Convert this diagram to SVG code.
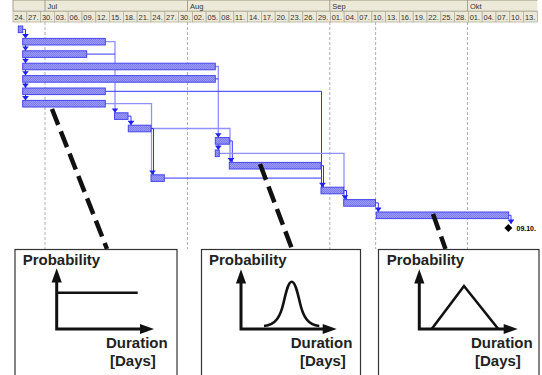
<svg xmlns="http://www.w3.org/2000/svg" xmlns:xlink="http://www.w3.org/1999/xlink" width="542" height="375" viewBox="0 0 542 375">
<style>
.hdr{fill:#ece9d8}
.cell{fill:#ece9d8;stroke:#b5b19d;stroke-width:0.8}
.ht{font-family:"Liberation Sans",Arial,sans-serif;font-size:7.5px;fill:#333}
.grid{stroke:#b0b0b0;stroke-width:1;stroke-dasharray:3 2;fill:none}
.bar{fill:url(#hatch);stroke:#4545ee;stroke-width:1}
.cd{fill:none;stroke:#3434ff;stroke-width:1}
.cl{fill:none;stroke:#9090ff;stroke-width:1.3}
.ah{fill:#2020f0}
.ms{fill:#000}
.msl{font-family:"Liberation Sans",Arial,sans-serif;font-size:7px;font-weight:bold;fill:#000}
.lead{stroke:#111;stroke-width:4.5;stroke-dasharray:17 7;fill:none}
.box{fill:#fff;stroke:#333;stroke-width:1.2}
.lbl{font-family:"Liberation Sans",Arial,sans-serif;font-size:15px;font-weight:bold;fill:#222}
.axis{fill:none;stroke:#111;stroke-width:3}
.head{fill:#111}
.curve{fill:none;stroke:#111;stroke-width:2.6;stroke-linejoin:miter}
</style>
<defs>
<pattern id="hatch" width="2" height="2" patternUnits="userSpaceOnUse">
<rect width="2" height="2" fill="#9c9cf8"/>
<rect width="1" height="1" fill="#7c7cee"/>
<rect x="1" y="1" width="1" height="1" fill="#7c7cee"/>
</pattern>
<path id="ah" d="M-3,-4.4 H3 V-3.5 H-3 Z M-2.6,-3.5 H2.6 L0,0 Z"/>
</defs>

<!-- header -->
<g id="timescale">
<rect class="hdr" x="13" y="0" width="524.4" height="22"/>
<line x1="13" y1="0.5" x2="537.4" y2="0.5" stroke="#b5b19d" stroke-width="0.8"/>
<line x1="13" y1="11" x2="537.4" y2="11" stroke="#b5b19d" stroke-width="0.8"/>
<g stroke="#9c9886" stroke-width="0.9">
<line x1="13" y1="0" x2="13" y2="11"/>
<line x1="45" y1="0" x2="45" y2="11"/>
<line x1="187.5" y1="0" x2="187.5" y2="11"/>
<line x1="329.8" y1="0" x2="329.8" y2="11"/>
<line x1="467.5" y1="0" x2="467.5" y2="11"/>
</g>
<text class="ht" x="47.5" y="8.5">Jul</text>
<text class="ht" x="190" y="8.5">Aug</text>
<text class="ht" x="332.3" y="8.5">Sep</text>
<text class="ht" x="470" y="8.5">Okt</text>
<g>
<rect class="cell" x="13" y="11.5" width="13.8" height="10.5"/>
<rect class="cell" x="26.8" y="11.5" width="13.8" height="10.5"/>
<rect class="cell" x="40.6" y="11.5" width="13.8" height="10.5"/>
<rect class="cell" x="54.4" y="11.5" width="13.8" height="10.5"/>
<rect class="cell" x="68.2" y="11.5" width="13.8" height="10.5"/>
<rect class="cell" x="82" y="11.5" width="13.8" height="10.5"/>
<rect class="cell" x="95.8" y="11.5" width="13.8" height="10.5"/>
<rect class="cell" x="109.6" y="11.5" width="13.8" height="10.5"/>
<rect class="cell" x="123.4" y="11.5" width="13.8" height="10.5"/>
<rect class="cell" x="137.2" y="11.5" width="13.8" height="10.5"/>
<rect class="cell" x="151" y="11.5" width="13.8" height="10.5"/>
<rect class="cell" x="164.8" y="11.5" width="13.8" height="10.5"/>
<rect class="cell" x="178.6" y="11.5" width="13.8" height="10.5"/>
<rect class="cell" x="192.4" y="11.5" width="13.8" height="10.5"/>
<rect class="cell" x="206.2" y="11.5" width="13.8" height="10.5"/>
<rect class="cell" x="220" y="11.5" width="13.8" height="10.5"/>
<rect class="cell" x="233.8" y="11.5" width="13.8" height="10.5"/>
<rect class="cell" x="247.6" y="11.5" width="13.8" height="10.5"/>
<rect class="cell" x="261.4" y="11.5" width="13.8" height="10.5"/>
<rect class="cell" x="275.2" y="11.5" width="13.8" height="10.5"/>
<rect class="cell" x="289" y="11.5" width="13.8" height="10.5"/>
<rect class="cell" x="302.8" y="11.5" width="13.8" height="10.5"/>
<rect class="cell" x="316.6" y="11.5" width="13.8" height="10.5"/>
<rect class="cell" x="330.4" y="11.5" width="13.8" height="10.5"/>
<rect class="cell" x="344.2" y="11.5" width="13.8" height="10.5"/>
<rect class="cell" x="358" y="11.5" width="13.8" height="10.5"/>
<rect class="cell" x="371.8" y="11.5" width="13.8" height="10.5"/>
<rect class="cell" x="385.6" y="11.5" width="13.8" height="10.5"/>
<rect class="cell" x="399.4" y="11.5" width="13.8" height="10.5"/>
<rect class="cell" x="413.2" y="11.5" width="13.8" height="10.5"/>
<rect class="cell" x="427" y="11.5" width="13.8" height="10.5"/>
<rect class="cell" x="440.8" y="11.5" width="13.8" height="10.5"/>
<rect class="cell" x="454.6" y="11.5" width="13.8" height="10.5"/>
<rect class="cell" x="468.4" y="11.5" width="13.8" height="10.5"/>
<rect class="cell" x="482.2" y="11.5" width="13.8" height="10.5"/>
<rect class="cell" x="496" y="11.5" width="13.8" height="10.5"/>
<rect class="cell" x="509.8" y="11.5" width="13.8" height="10.5"/>
<rect class="cell" x="523.6" y="11.5" width="13.8" height="10.5"/>
</g>
<g class="ht">
<text x="14.3" y="19.8">24.</text>
<text x="28.1" y="19.8">27.</text>
<text x="41.9" y="19.8">30.</text>
<text x="55.7" y="19.8">03.</text>
<text x="69.5" y="19.8">06.</text>
<text x="83.3" y="19.8">09.</text>
<text x="97.1" y="19.8">12.</text>
<text x="110.9" y="19.8">15.</text>
<text x="124.7" y="19.8">18.</text>
<text x="138.5" y="19.8">21.</text>
<text x="152.3" y="19.8">24.</text>
<text x="166.1" y="19.8">27.</text>
<text x="179.9" y="19.8">30.</text>
<text x="193.7" y="19.8">02.</text>
<text x="207.5" y="19.8">05.</text>
<text x="221.3" y="19.8">08.</text>
<text x="235.1" y="19.8">11.</text>
<text x="248.9" y="19.8">14.</text>
<text x="262.7" y="19.8">17.</text>
<text x="276.5" y="19.8">20.</text>
<text x="290.3" y="19.8">23.</text>
<text x="304.1" y="19.8">26.</text>
<text x="317.9" y="19.8">29.</text>
<text x="331.7" y="19.8">01.</text>
<text x="345.5" y="19.8">04.</text>
<text x="359.3" y="19.8">07.</text>
<text x="373.1" y="19.8">10.</text>
<text x="386.9" y="19.8">13.</text>
<text x="400.7" y="19.8">16.</text>
<text x="414.5" y="19.8">19.</text>
<text x="428.3" y="19.8">22.</text>
<text x="442.1" y="19.8">25.</text>
<text x="455.9" y="19.8">28.</text>
<text x="469.7" y="19.8">01.</text>
<text x="483.5" y="19.8">04.</text>
<text x="497.3" y="19.8">07.</text>
<text x="511.1" y="19.8">10.</text>
<text x="524.9" y="19.8">13.</text>
</g>
</g>

<!-- gridlines -->
<g id="gridlines" class="grid">
<line x1="45" y1="22" x2="45" y2="249"/>
<line x1="187.5" y1="22" x2="187.5" y2="249"/>
<line x1="329.8" y1="22" x2="329.8" y2="249"/>
<line x1="375.6" y1="22" x2="375.6" y2="249"/>
<line x1="467.5" y1="22" x2="467.5" y2="249"/>
</g>

<!-- connectors -->
<g id="connectors">
<path class="cd" d="M22.7,29.3 H25.5 V100.4"/>
<path class="cl" d="M105.3,41.7 H115 V112.8"/>
<path class="cd" d="M86.7,54.1 H115"/>
<path class="cl" d="M215.3,66.5 H218.3 V150"/>
<path class="cd" d="M215.3,78.9 H218.3"/>
<path class="cd" d="M105.3,91.3 H321.5 V187.2"/>
<path class="cl" d="M105.3,103.7 H151.5 V174.8"/>
<path class="cd" d="M128,116.1 H131 V125.2"/>
<path class="cl" d="M151,128.5 H230 V162.4"/>
<path class="cd" d="M151,128.5 H153.5 V174.8"/>
<path class="cd" d="M229.3,140.9 H232.3 V162.4"/>
<path class="cl" d="M219.3,153.3 H344 V199.6"/>
<path class="cd" d="M321,165.7 H323.5 V187.2"/>
<path class="cd" d="M164.3,178.1 H321.5"/>
<path class="cd" d="M343.7,190.5 H346.5 V199.6"/>
<path class="cd" d="M375.5,202.9 H378.3 V212"/>
<path class="cd" d="M508.7,215.3 H511 V224"/>
<g class="ah">
<use xlink:href="#ah" x="25.5" y="38.4"/>
<use xlink:href="#ah" x="25.5" y="50.8"/>
<use xlink:href="#ah" x="25.5" y="63.2"/>
<use xlink:href="#ah" x="25.5" y="75.6"/>
<use xlink:href="#ah" x="25.5" y="88"/>
<use xlink:href="#ah" x="25.5" y="100.4"/>
<use xlink:href="#ah" x="115" y="112.8"/>
<use xlink:href="#ah" x="131" y="125.2"/>
<use xlink:href="#ah" x="218.3" y="137.6"/>
<use xlink:href="#ah" x="218.3" y="150"/>
<use xlink:href="#ah" x="231" y="162.4"/>
<use xlink:href="#ah" x="152.5" y="174.8"/>
<use xlink:href="#ah" x="322.5" y="187.2"/>
<use xlink:href="#ah" x="345" y="199.6"/>
<use xlink:href="#ah" x="378.3" y="212"/>
<use xlink:href="#ah" x="511" y="224"/>
</g>
</g>

<!-- tasks -->
<g id="task-0"><rect class="bar" x="18.3" y="26" width="4.4" height="6.6"/></g>
<g id="task-1"><rect class="bar" x="22.7" y="38.4" width="82.6" height="6.6"/></g>
<g id="task-2"><rect class="bar" x="22.7" y="50.8" width="64" height="6.6"/></g>
<g id="task-3"><rect class="bar" x="22.7" y="63.2" width="192.6" height="6.6"/></g>
<g id="task-4"><rect class="bar" x="22.7" y="75.6" width="192.6" height="6.6"/></g>
<g id="task-5"><rect class="bar" x="22.7" y="88" width="82.6" height="6.6"/></g>
<g id="task-6"><rect class="bar" x="22.7" y="100.4" width="82.6" height="6.6"/></g>
<g id="task-7"><rect class="bar" x="114.5" y="112.8" width="13.5" height="6.6"/></g>
<g id="task-8"><rect class="bar" x="128.3" y="125.2" width="22.7" height="6.6"/></g>
<g id="task-9"><rect class="bar" x="215.3" y="137.6" width="14" height="6.6"/></g>
<g id="task-10"><rect class="bar" x="215.3" y="150" width="4" height="6.6"/></g>
<g id="task-11"><rect class="bar" x="229.3" y="162.4" width="91.7" height="6.6"/></g>
<g id="task-12"><rect class="bar" x="151" y="174.8" width="13.3" height="6.6"/></g>
<g id="task-13"><rect class="bar" x="321" y="187.2" width="22.7" height="6.6"/></g>
<g id="task-14"><rect class="bar" x="343.7" y="199.6" width="31.8" height="6.6"/></g>
<g id="task-15"><rect class="bar" x="376.3" y="212" width="132.4" height="6.6"/></g>
<g id="milestone">
<path class="ms" d="M508.4,224 L512.4,228 L508.4,232 L504.4,228 Z"/>
<text class="msl" x="516.5" y="230.6">09.10.</text>
</g>

<!-- leader lines -->
<g id="leaders">
<line class="lead" x1="52" y1="109" x2="107" y2="249"/>
<line class="lead" x1="260" y1="164" x2="292" y2="249"/>
<line class="lead" x1="433" y1="214" x2="445.5" y2="249"/>
</g>

<!-- distribution boxes -->
<g id="dist-uniform">
<rect class="box" x="15" y="249.5" width="162" height="140"/>
<text class="lbl" x="22.7" y="265">Probability</text>
<path class="axis" d="M56.7,280 V329 H142"/>
<path class="head" d="M56.7,268.3 L61.8,282.5 L51.6,282.5 Z"/>
<path class="head" d="M154,329 L140,323.9 L140,334.1 Z"/>
<path class="curve" d="M56.7,292.7 H137.7"/>
<text class="lbl" x="106" y="348">Duration</text>
<text class="lbl" x="110" y="365.5">[Days]</text>
</g>
<g id="dist-normal">
<rect class="box" x="201.5" y="249.5" width="159" height="140"/>
<text class="lbl" x="209" y="265">Probability</text>
<path class="axis" d="M241,281 V329 H325"/>
<path class="head" d="M241,269.3 L246.1,283.5 L235.9,283.5 Z"/>
<path class="head" d="M336.7,329 L322.7,323.9 L322.7,334.1 Z"/>
<path class="curve" d="M264,326 C276,325 280.5,316 283.5,303 C286.5,290 288.5,281.7 291.7,281.7 C294.9,281.7 297,290 300,303 C303,316 307.5,325 319.3,326"/>
<text class="lbl" x="290.7" y="348">Duration</text>
<text class="lbl" x="300" y="365.5">[Days]</text>
</g>
<g id="dist-triangular">
<rect class="box" x="378.5" y="249.5" width="160.5" height="140"/>
<text class="lbl" x="386.7" y="265">Probability</text>
<path class="axis" d="M419.3,281 V329 H506"/>
<path class="head" d="M419.3,269.3 L424.4,283.5 L414.2,283.5 Z"/>
<path class="head" d="M517.7,329 L503.7,323.9 L503.7,334.1 Z"/>
<path class="curve" d="M431.7,329 L464,286 L498.3,329"/>
<text class="lbl" x="471" y="348">Duration</text>
<text class="lbl" x="475" y="365.5">[Days]</text>
</g>
</svg>
